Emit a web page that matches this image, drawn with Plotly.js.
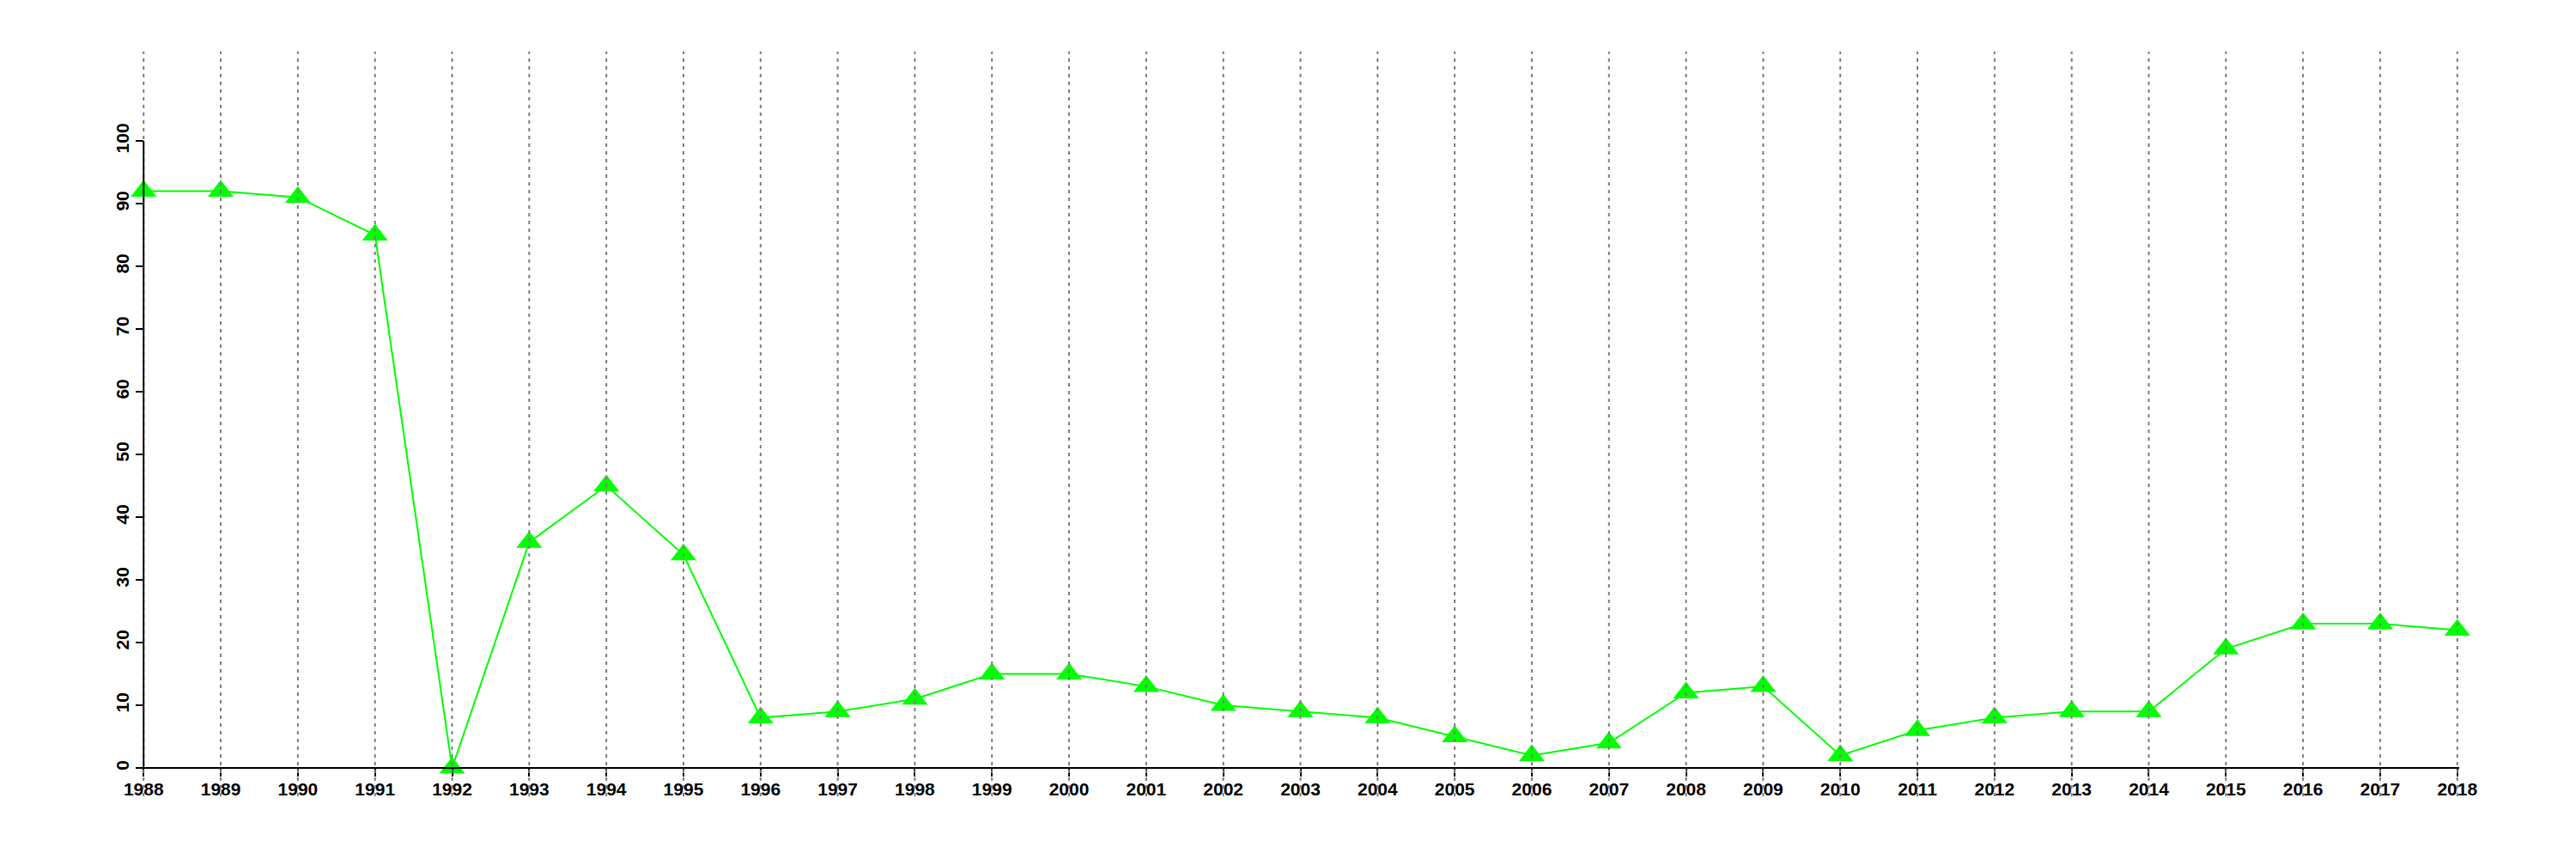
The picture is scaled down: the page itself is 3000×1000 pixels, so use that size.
<!DOCTYPE html>
<html>
<head>
<meta charset="utf-8">
<script src="https://cdn.plot.ly/plotly-3.0.1.min.js"></script>
<style>html,body{margin:0;padding:0;background:#fff;}#chart{width:3000px;height:1000px;}</style>
</head>
<body>
<div id="chart"></div>
<script>
// Data
const years = [1988,1989,1990,1991,1992,1993,1994,1995,1996,1997,1998,1999,2000,2001,2002,2003,2004,2005,2006,2007,2008,2009,2010,2011,2012,2013,2014,2015,2016,2017,2018];
const values = [92,92,91,85,0,36,45,34,8,9,11,15,15,13,10,9,8,5,2,4,12,13,2,6,8,9,9,19,23,23,22];
const yTicks = [0,10,20,30,40,50,60,70,80,90,100];

const xMin = years[0] - 0.025, xMax = years[years.length - 1] + 0.025;
const yMin = -4.52, yMax = 114.25;
const font = {family: 'Liberation Sans, Arial, sans-serif', size: 21, color: '#000', weight: 'bold'};

const trace = {
  x: years, y: values, type: 'scatter', mode: 'lines+markers',
  line: {color: '#00FF00', width: 2},
  marker: {symbol: 'triangle-up', size: 26, color: '#00FF00', line: {width: 0}},
  cliponaxis: false, showlegend: false, hoverinfo: 'skip'
};

const shapes = years.map(yr => ({
  type: 'line', xref: 'x', yref: 'paper', x0: yr, x1: yr, y0: 0, y1: 1,
  line: {color: '#7f7f7f', width: 2, dash: '4px,5px'}, layer: 'above'
}));
shapes.push({
  type: 'line', xref: 'x', yref: 'y', x0: years[0], x1: years[0], y0: yTicks[0], y1: yTicks[yTicks.length - 1],
  line: {color: '#000', width: 2}, layer: 'above'
});

const layout = {
  width: 3000, height: 1000,
  margin: {l: 165, r: 136, t: 60, b: 73, pad: 0},
  paper_bgcolor: '#fff', plot_bgcolor: '#fff',
  showlegend: false,
  xaxis: {
    range: [xMin, xMax], anchor: 'free', position: (0 - yMin) / (yMax - yMin),
    tickmode: 'array', tickvals: years, ticktext: years.map(String),
    showgrid: false, zeroline: false,
    showline: true, linecolor: '#000', linewidth: 2,
    ticks: 'outside', ticklen: 9, tickwidth: 2, tickcolor: '#000',
    tickfont: font, tickangle: 0, ticklabelstandoff: -3
  },
  yaxis: {
    range: [yMin, yMax], anchor: 'free', position: (years[0] - xMin) / (xMax - xMin),
    tickmode: 'array', tickvals: yTicks, ticktext: yTicks.map(String),
    showgrid: false, zeroline: false, showline: false,
    ticks: 'outside', ticklen: 9, tickwidth: 2, tickcolor: '#000',
    tickfont: font, tickangle: -90
  },
  shapes: shapes
};

Plotly.newPlot('chart', [trace], layout, {staticPlot: true, displayModeBar: false});
</script>
</body>
</html>
